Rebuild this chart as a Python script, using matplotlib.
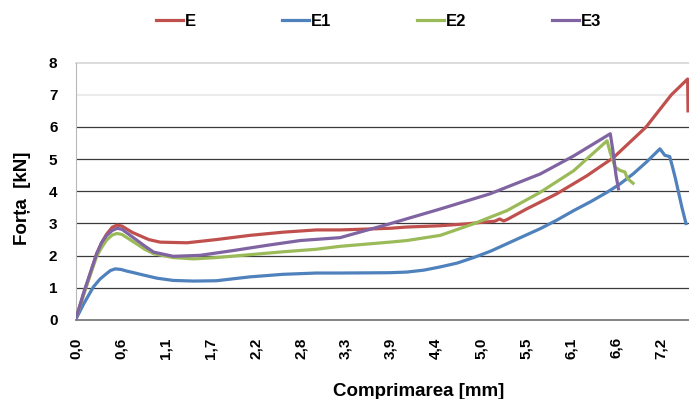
import numpy as np
import matplotlib
matplotlib.use('Agg')
import matplotlib.pyplot as plt

plt.rcParams['font.family']=['Liberation Sans','DejaVu Sans']
plt.rcParams['font.weight']='bold'

# force [kN] vs compression [mm]
x_E=[0,0.1,0.26,0.32,0.38,0.45,0.51,0.57,0.7,0.9,1.04,1.37,1.73,2.14,2.55,2.96,3.25,3.86,4.07,4.48,4.81,5.01,5.15,5.21,5.26,5.3,5.54,5.91,6.28,6.61,7.01,7.32,7.52,7.525]
y_E=[0,0.8,2.06,2.4,2.66,2.88,2.95,2.92,2.72,2.5,2.42,2.4,2.5,2.63,2.73,2.8,2.8,2.85,2.89,2.93,2.99,3.04,3.07,3.14,3.08,3.12,3.45,3.92,4.48,5.05,6.0,7.0,7.49,6.5]

x_E1=[0,0.1,0.22,0.3,0.38,0.43,0.49,0.56,0.63,0.7,0.83,1.0,1.2,1.45,1.73,2.14,2.55,2.96,3.25,3.86,4.07,4.28,4.48,4.69,4.89,5.1,5.3,5.5,5.71,5.91,6.12,6.33,6.53,6.69,6.85,7.01,7.18,7.24,7.3,7.33,7.37,7.41,7.45,7.5]
y_E1=[0,0.5,1.03,1.27,1.44,1.54,1.59,1.57,1.52,1.48,1.4,1.3,1.23,1.21,1.22,1.34,1.42,1.46,1.46,1.47,1.49,1.55,1.65,1.77,1.94,2.14,2.37,2.6,2.84,3.1,3.4,3.68,3.97,4.23,4.54,4.9,5.32,5.12,5.08,4.8,4.4,3.95,3.5,3.0]

x_E2=[0,0.1,0.26,0.32,0.38,0.45,0.51,0.57,0.7,0.85,0.96,1.2,1.45,1.73,2.14,2.55,2.96,3.25,3.86,4.07,4.48,4.89,5.3,5.71,6.12,6.53,6.57,6.63,6.69,6.75,6.78,6.85]
y_E2=[0,0.8,1.98,2.25,2.48,2.64,2.69,2.66,2.45,2.2,2.06,1.94,1.9,1.94,2.03,2.12,2.2,2.29,2.42,2.47,2.63,2.99,3.4,3.97,4.64,5.57,5.2,4.75,4.65,4.6,4.4,4.25]

x_E3=[0,0.1,0.26,0.32,0.38,0.45,0.51,0.57,0.7,0.85,0.96,1.2,1.53,1.94,2.35,2.76,3.25,3.86,4.48,5.09,5.71,6.12,6.57,6.6,6.64,6.67]
y_E3=[0,0.85,2.06,2.4,2.62,2.78,2.85,2.82,2.58,2.3,2.11,1.98,2.01,2.16,2.32,2.47,2.56,2.99,3.45,3.92,4.54,5.1,5.79,5.3,4.5,4.08]

names=['E','E1','E2','E3']
colors=['#C0504D','#4F81BD','#9BBB59','#8064A2']
xtick_vals=[0.0,0.553,1.106,1.659,2.212,2.765,3.318,3.871,4.424,4.977,5.53,6.083,6.636,7.189]
xtick_labels=['0,0','0,6','1,1','1,7','2,2','2,8','3,3','3,9','4,4','5,0','5,5','6,1','6,6','7,2']

fig=plt.figure(figsize=(6.89,3.99),dpi=100)
ax=fig.add_axes([0.1096,0.198,0.8904,0.645])

for xs,ys,c,n in zip([x_E,x_E1,x_E2,x_E3],[y_E,y_E1,y_E2,y_E3],colors,names):
  ax.plot(xs,ys,color=c,lw=2.3,label=n,zorder=3,solid_joinstyle='round')

ax.set_xlim(0,7.537)
ax.set_ylim(0,8)

# gridlines (upper two are pale in the original)
for yv in range(1,7):
  ax.axhline(yv,color='#3a3a3a',lw=0.9,zorder=1)
ax.axhline(7,color='#ebebeb',lw=1.5,zorder=1)
ax.axhline(8,color='#d6d6d6',lw=1.2,zorder=1,clip_on=False)

for s in ['top','right']:
  ax.spines[s].set_visible(False)
ax.spines['left'].set_color('#b8b8b8')
ax.spines['bottom'].set_color('#7a7a7a')
ax.spines['bottom'].set_linewidth(1.3)

ax.set_yticks(range(9))
ax.set_xticks(xtick_vals)
ax.set_xticklabels(xtick_labels,rotation=90)
ax.tick_params(axis='both',length=0,labelsize=11)
ax.tick_params(axis='x',pad=12.5)
ax.tick_params(axis='y',pad=13)

fig.text(0.6075,0.008,'Comprimarea [mm]',ha='center',va='baseline',fontsize=13.5,fontweight='bold')
fig.text(0.0327,0.5025,'Forța  [kN]',ha='center',va='center',rotation=90,fontsize=13.5,fontweight='bold')

fig.legend(loc='center left',bbox_to_anchor=(156/689.,1-21/399.),ncol=4,frameon=False,
           fontsize=12,handlelength=1.62,handletextpad=0.12,columnspacing=5.15,borderpad=0,borderaxespad=0)

plt.savefig('out.png',dpi=100)
